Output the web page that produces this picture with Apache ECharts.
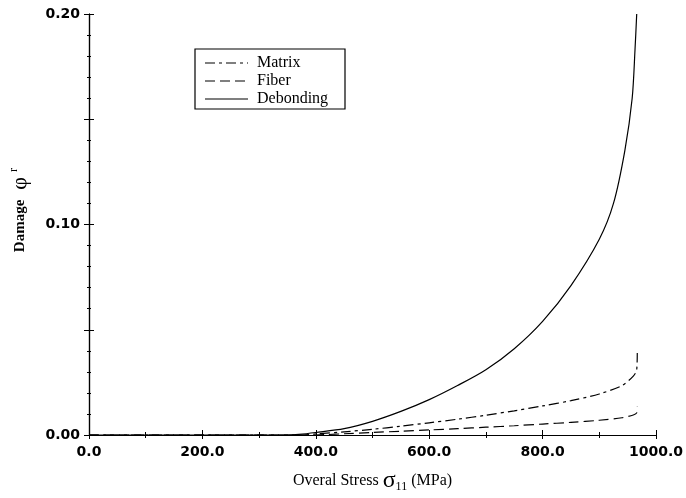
<!DOCTYPE html>
<html><head><meta charset="utf-8">
<script src="https://cdn.jsdelivr.net/npm/echarts@6/dist/echarts.min.js"></script>
<style>html,body{margin:0;padding:0;background:#fff}#c{width:686px;height:498px}</style>
</head><body><div id="c"></div>
<script>
const debondX = [0, 100, 200, 300, 350, 370, 400, 450, 500, 550, 600, 650, 700, 750, 800, 850, 900, 925, 945, 958, 963, 966];
const debondY = [0, 0, 0, 0, 0, 0.0003, 0.0012, 0.003, 0.0065, 0.0112, 0.0168, 0.0235, 0.031, 0.041, 0.054, 0.071, 0.093, 0.11, 0.135, 0.16, 0.183, 0.2];
const matrixX = [0, 100, 200, 300, 380, 400, 450, 500, 550, 600, 650, 700, 750, 800, 850, 900, 940, 960, 966, 967];
const matrixY = [0, 0, 0, 0, 0, 0.0005, 0.0015, 0.0027, 0.0042, 0.0058, 0.0075, 0.0094, 0.0115, 0.0138, 0.0163, 0.0195, 0.0235, 0.028, 0.031, 0.039];
const fiberX = [0, 100, 200, 300, 400, 420, 450, 500, 550, 600, 650, 700, 750, 800, 850, 900, 940, 960, 966, 967];
const fiberY = [0, 0, 0, 0, 0, 0.0002, 0.0006, 0.0012, 0.0018, 0.0024, 0.003, 0.0037, 0.0044, 0.0052, 0.006, 0.007, 0.0082, 0.0095, 0.0105, 0.0134];
const xTicks = [0, 200, 400, 600, 800, 1000];
const yLabeled = [0, 0.1, 0.2];
const seriesNames = ['Matrix', 'Fiber', 'Debonding'];

const pairs = (xs, ys) => xs.map((x, i) => [x, ys[i]]);
const chart = echarts.init(document.getElementById('c'));
const serif = 'Liberation Serif, Times New Roman, serif';
const tickFont = {fontFamily: 'DejaVu Sans, sans-serif', fontSize: 14, fontWeight: 'bold', color: '#000'};
const lineBase = {color: '#000', width: 1.2};
const L = {x: 195, y: 49, w: 150, h: 60};
chart.setOption({
  animation: false,
  backgroundColor: '#fff',
  grid: {left: 89, right: 30, top: 14, bottom: 51},
  xAxis: [{
    type: 'value', min: 0, max: 1000, interval: 200,
    axisLine: {lineStyle: {color: '#000', width: 1.2}},
    axisTick: {inside: true, length: 5, lineStyle: {color: '#000'}},
    minorTick: {show: true, splitNumber: 2, length: 3, lineStyle: {color: '#000'}},
    splitLine: {show: false},
    axisLabel: Object.assign({margin: 10, formatter: v => xTicks.includes(v) ? v.toFixed(1) : ''}, tickFont),
    name: '{a|Overal Stress }{s|σ}{b|11}{a| (MPa)}',
    nameLocation: 'middle', nameGap: 34,
    nameTextStyle: {rich: {
      a: {fontFamily: serif, fontSize: 16, color: '#000'},
      s: {fontFamily: serif, fontSize: 24, color: '#000'},
      b: {fontFamily: serif, fontSize: 12, color: '#000', verticalAlign: 'bottom', padding: [8, 0, 0, 0]}
    }}
  }, {
    type: 'value', min: 0, max: 1000, interval: 200, position: 'top',
    axisLine: {lineStyle: {color: '#000', width: 1.2}},
    axisTick: {inside: true, length: 4, lineStyle: {color: '#000'}},
    minorTick: {show: true, splitNumber: 2, length: 3, lineStyle: {color: '#000'}},
    axisLabel: {show: false}, splitLine: {show: false}
  }],
  yAxis: [{
    type: 'value', min: 0, max: 0.2, interval: 0.05,
    axisLine: {show: true, lineStyle: {color: '#000', width: 1.2}},
    axisTick: {inside: true, length: 5, lineStyle: {color: '#000'}},
    minorTick: {show: true, splitNumber: 5, length: 2, lineStyle: {color: '#000'}},
    splitLine: {show: false},
    axisLabel: Object.assign({margin: 9, formatter: v => yLabeled.some(t => Math.abs(t - v) < 1e-9) ? v.toFixed(2) : ''}, tickFont)
  }, {
    type: 'value', min: 0, max: 0.2, interval: 0.05, position: 'right',
    axisLine: {show: true, lineStyle: {color: '#000', width: 1.2}},
    axisTick: {inside: true, length: 5, lineStyle: {color: '#000'}},
    minorTick: {show: true, splitNumber: 5, length: 2, lineStyle: {color: '#000'}},
    axisLabel: {show: false}, splitLine: {show: false}
  }],
  series: [
    {name: seriesNames[0], type: 'line', data: pairs(matrixX, matrixY), showSymbol: false, smooth: 0.3,
     lineStyle: Object.assign({type: [10, 4, 3, 4]}, lineBase), z: 3},
    {name: seriesNames[1], type: 'line', data: pairs(fiberX, fiberY), showSymbol: false, smooth: 0.3,
     lineStyle: Object.assign({type: [10, 5]}, lineBase), z: 3},
    {name: seriesNames[2], type: 'line', data: pairs(debondX, debondY), showSymbol: false, smooth: 0.3,
     lineStyle: Object.assign({type: 'solid'}, lineBase), z: 3}
  ],
  graphic: [
    {type: 'text', left: 8, top: 168, rotation: Math.PI / 2, style: {
      text: '{a|Damage}   {p|φ}{r|r}', fill: '#000',
      rich: {
        a: {fontFamily: serif, fontSize: 15, fontWeight: 'bold'},
        p: {fontFamily: serif, fontSize: 22},
        r: {fontFamily: serif, fontSize: 12, verticalAlign: 'top', padding: [0, 0, 12, 5]}
      }}},
    {type: 'rect', shape: {x: L.x, y: L.y, width: L.w, height: L.h}, style: {fill: '#fff', stroke: '#000', lineWidth: 1.2}, z: 10},
    {type: 'line', shape: {x1: 205, y1: 63, x2: 248, y2: 63}, style: {stroke: '#000', lineWidth: 1.2, lineDash: [10, 4, 3, 4]}, z: 11},
    {type: 'line', shape: {x1: 205, y1: 81, x2: 248, y2: 81}, style: {stroke: '#000', lineWidth: 1.2, lineDash: [10, 5]}, z: 11},
    {type: 'line', shape: {x1: 205, y1: 99, x2: 248, y2: 99}, style: {stroke: '#000', lineWidth: 1.2}, z: 11},
    {type: 'text', x: 257, y: 63, style: {text: seriesNames[0], fontFamily: serif, fontSize: 16, fill: '#000', textVerticalAlign: 'middle'}, z: 11},
    {type: 'text', x: 257, y: 81, style: {text: seriesNames[1], fontFamily: serif, fontSize: 16, fill: '#000', textVerticalAlign: 'middle'}, z: 11},
    {type: 'text', x: 257, y: 99, style: {text: seriesNames[2], fontFamily: serif, fontSize: 16, fill: '#000', textVerticalAlign: 'middle'}, z: 11}
  ]
});
</script></body></html>
